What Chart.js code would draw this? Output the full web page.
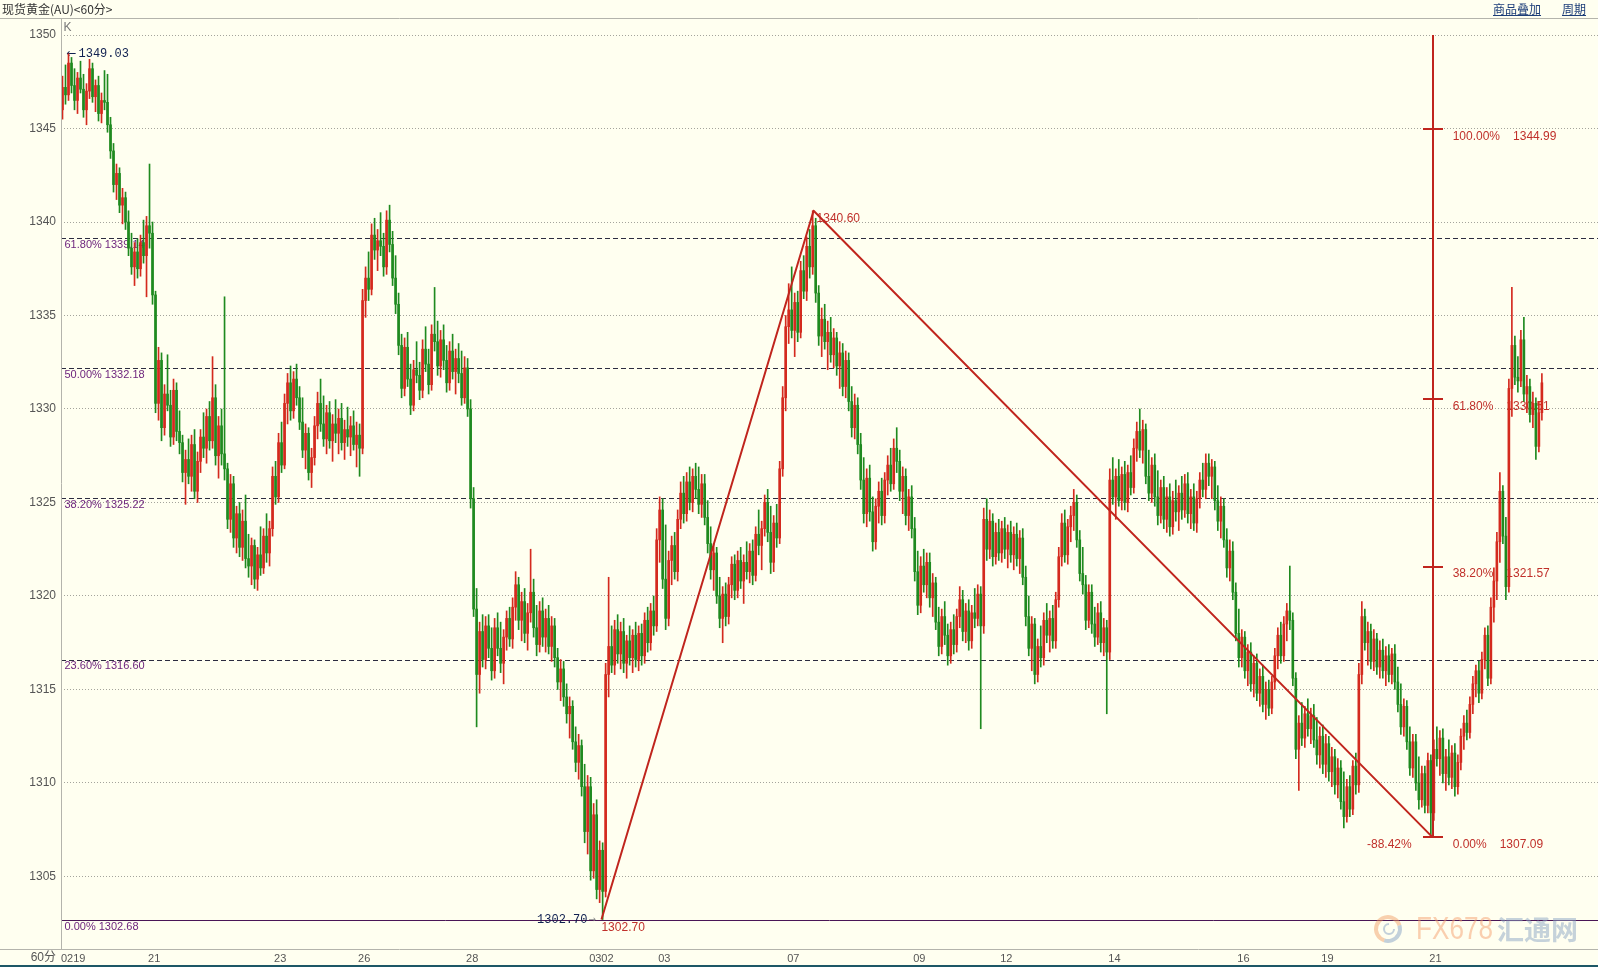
<!DOCTYPE html>
<html>
<head>
<meta charset="utf-8">
<script src="https://cdn.jsdelivr.net/npm/chart.js@4.4.1/dist/chart.umd.min.js"></script>
<style>
html, body { margin: 0; padding: 0; background: #fffff0; }
body { width: 1598px; height: 967px; position: relative; overflow: hidden; font-family: "Noto Sans CJK SC", sans-serif; }
canvas { position: absolute; left: 0; top: 0; }
#titulo { position: absolute; left: 2px; top: 1px; font-size: 12px; line-height: 16px; color: #333; }
.enlace { position: absolute; top: 1px; font-size: 12px; line-height: 16px; color: #1c3d78; text-decoration: underline; }
#pie { position: absolute; left: 0; top: 965px; width: 1598px; height: 2px; background: #1d5766; }
</style>
</head>
<body>
<canvas id="grafica" width="1598" height="967"></canvas>
<div id="titulo">现货黄金(AU)&lt;60分&gt;</div>
<div class="enlace" style="left:1493px">商品叠加</div>
<div class="enlace" style="left:1562px">周期</div>
<div id="pie"></div>
<script>
// velas de 60 minutos: [apertura, maximo, minimo, cierre]
const velas = [
  [1346.0,1347.8,1345.5,1347.2],[1347.2,1348.4,1346.3,1346.8],[1346.8,1349.0,1346.5,1348.5],[1348.5,1348.8,1346.9,1347.3],[1347.3,1348.2,1346.0,1346.5],
  [1346.5,1348.0,1345.8,1347.7],[1347.7,1348.6,1346.9,1347.1],[1347.1,1347.9,1345.6,1346.0],[1346.0,1347.4,1345.2,1347.0],[1347.0,1348.7,1346.6,1348.2],
  [1348.2,1348.5,1346.4,1346.7],[1346.7,1347.6,1345.9,1347.3],[1347.3,1347.8,1345.4,1345.8],[1345.8,1346.9,1345.3,1346.5],[1346.5,1348.1,1346.0,1346.4],
  [1346.4,1347.9,1344.8,1345.2],[1345.2,1345.6,1343.4,1343.8],[1343.8,1344.2,1341.6,1342.0],[1342.0,1343.1,1341.2,1342.6],[1342.6,1342.9,1340.5,1340.9],
  [1340.9,1341.8,1339.9,1341.3],[1341.3,1341.6,1339.6,1340.0],[1340.0,1340.6,1338.2,1338.6],[1338.6,1339.4,1337.2,1337.6],[1337.6,1338.9,1336.6,1338.4],
  [1338.4,1339.1,1337.0,1337.5],[1337.5,1339.3,1337.1,1338.9],[1338.9,1340.1,1337.8,1338.2],[1338.2,1340.3,1336.0,1339.8],[1339.8,1343.1,1338.6,1339.4],
  [1339.4,1340.0,1335.6,1336.1],[1336.1,1336.3,1329.8,1330.3],[1330.3,1333.3,1329.4,1332.6],[1332.6,1333.0,1328.3,1329.0],[1329.0,1331.3,1328.6,1330.8],
  [1330.8,1332.9,1329.9,1330.2],[1330.2,1331.0,1328.0,1328.5],[1328.5,1331.6,1328.1,1331.0],[1331.0,1331.4,1328.3,1328.8],[1328.8,1329.9,1327.6,1328.2],
  [1328.2,1328.6,1326.1,1326.6],[1326.6,1327.8,1324.9,1327.3],[1327.3,1328.4,1326.0,1326.4],[1326.4,1328.6,1325.6,1328.1],[1328.1,1328.9,1325.2,1325.6],
  [1325.6,1327.7,1325.0,1327.2],[1327.2,1328.9,1326.6,1328.5],[1328.5,1329.8,1327.4,1327.9],[1327.9,1330.0,1327.1,1329.6],[1329.6,1330.4,1327.8,1328.3],
  [1328.3,1332.8,1327.9,1330.6],[1330.6,1331.3,1327.0,1327.5],[1327.5,1329.6,1326.3,1329.1],[1329.1,1330.0,1327.0,1327.6],[1327.6,1336.0,1326.2,1326.8],
  [1326.8,1327.1,1323.6,1324.1],[1324.1,1326.5,1323.4,1326.0],[1326.0,1326.4,1322.6,1323.1],[1323.1,1324.8,1322.3,1324.4],[1324.4,1325.0,1322.1,1322.6],
  [1322.6,1324.6,1321.9,1324.0],[1324.0,1325.4,1321.5,1322.0],[1322.0,1323.3,1321.0,1321.6],[1321.6,1323.1,1320.6,1322.7],[1322.7,1323.0,1320.4,1320.9],
  [1320.9,1322.6,1320.3,1322.2],[1322.2,1323.7,1321.1,1321.5],[1321.5,1323.6,1321.2,1323.2],[1323.2,1324.4,1321.8,1322.3],[1322.3,1324.0,1321.6,1323.6],
  [1323.6,1326.9,1323.2,1326.4],[1326.4,1327.2,1324.9,1325.3],[1325.3,1328.7,1325.0,1328.2],[1328.2,1329.3,1326.6,1327.0],[1327.0,1330.8,1326.8,1330.3],
  [1330.3,1331.9,1329.2,1331.4],[1331.4,1332.3,1329.4,1329.9],[1329.9,1332.0,1329.5,1331.6],[1331.6,1332.4,1330.2,1330.6],[1330.6,1331.2,1328.9,1329.3],
  [1329.3,1330.6,1327.4,1327.8],[1327.8,1329.2,1326.8,1328.7],[1328.7,1329.0,1326.2,1326.6],[1326.6,1327.9,1325.8,1327.4],[1327.4,1329.6,1327.0,1329.1],
  [1329.1,1330.9,1328.4,1330.3],[1330.3,1331.6,1328.8,1329.2],[1329.2,1330.7,1328.0,1328.4],[1328.4,1330.2,1327.6,1329.8],[1329.8,1330.4,1327.9,1328.3],
  [1328.3,1329.7,1327.2,1329.2],[1329.2,1330.5,1328.2,1328.7],[1328.7,1330.0,1327.6,1329.5],[1329.5,1330.3,1327.8,1328.2],[1328.2,1329.4,1327.3,1328.9],
  [1328.9,1330.1,1328.0,1328.5],[1328.5,1329.6,1327.5,1329.1],[1329.1,1329.9,1327.8,1328.1],[1328.1,1329.3,1326.9,1328.6],[1328.6,1329.2,1326.4,1327.9],
  [1327.9,1336.4,1327.6,1335.8],[1335.8,1337.6,1334.9,1337.0],[1337.0,1338.4,1335.8,1336.4],[1336.4,1339.9,1336.1,1339.3],[1339.3,1340.2,1338.0,1338.5],
  [1338.5,1339.6,1337.4,1339.0],[1339.0,1340.5,1338.2,1338.7],[1338.7,1339.4,1337.1,1337.6],[1337.6,1340.6,1337.2,1340.1],[1340.1,1340.9,1338.4,1338.8],
  [1338.8,1339.5,1336.6,1337.0],[1337.0,1338.2,1335.1,1335.6],[1335.6,1336.2,1332.9,1333.4],[1333.4,1334.0,1330.6,1331.1],[1331.1,1333.8,1330.7,1333.3],
  [1333.3,1334.1,1331.2,1331.6],[1331.6,1332.4,1329.7,1330.2],[1330.2,1332.6,1329.9,1332.1],[1332.1,1333.6,1331.4,1331.8],[1331.8,1332.5,1330.5,1331.0],
  [1331.0,1333.7,1330.6,1333.2],[1333.2,1334.4,1332.0,1332.4],[1332.4,1333.2,1330.8,1331.3],[1331.3,1334.5,1331.0,1334.0],[1334.0,1336.5,1333.1,1333.6],
  [1333.6,1334.7,1331.8,1332.3],[1332.3,1334.2,1331.7,1333.7],[1333.7,1334.5,1332.1,1332.6],[1332.6,1333.4,1330.9,1331.4],[1331.4,1333.6,1331.0,1333.1],
  [1333.1,1334.0,1331.6,1332.0],[1332.0,1333.2,1330.8,1332.7],[1332.7,1333.5,1331.4,1331.9],[1331.9,1333.1,1330.2,1330.6],[1330.6,1332.8,1330.3,1332.2],
  [1332.2,1332.7,1329.6,1330.0],[1330.0,1330.5,1324.7,1325.2],[1325.2,1325.8,1318.9,1319.3],[1319.3,1320.4,1313.0,1315.8],[1315.8,1318.6,1314.8,1318.1],
  [1318.1,1319.0,1316.2,1316.6],[1316.6,1318.9,1316.1,1318.4],[1318.4,1319.0,1316.7,1317.2],[1317.2,1318.3,1315.5,1316.0],[1316.0,1318.8,1315.6,1318.3],
  [1318.3,1319.1,1316.8,1317.2],[1317.2,1318.6,1315.9,1316.4],[1316.4,1318.2,1315.3,1317.8],[1317.8,1319.2,1317.1,1318.8],[1318.8,1319.4,1317.3,1317.7],
  [1317.7,1319.9,1317.2,1319.4],[1319.4,1321.3,1318.7,1320.6],[1320.6,1321.0,1318.2,1318.7],[1318.7,1320.2,1317.6,1319.7],[1319.7,1320.4,1317.5,1318.0],
  [1318.0,1319.6,1317.1,1319.1],[1319.1,1322.5,1318.6,1320.2],[1320.2,1320.9,1317.8,1318.3],[1318.3,1319.5,1316.8,1317.4],[1317.4,1319.7,1317.0,1319.2],
  [1319.2,1319.9,1317.3,1317.8],[1317.8,1319.3,1317.0,1318.8],[1318.8,1319.5,1316.9,1317.3],[1317.3,1318.9,1316.5,1318.4],[1318.4,1318.8,1316.2,1316.7],
  [1316.7,1317.2,1315.0,1315.4],[1315.4,1316.6,1314.4,1316.1],[1316.1,1316.5,1314.1,1314.6],[1314.6,1315.3,1313.2,1313.7],[1313.7,1314.6,1312.4,1314.1],
  [1314.1,1314.4,1311.8,1312.2],[1312.2,1313.0,1310.6,1311.1],[1311.1,1312.6,1310.2,1312.0],[1312.0,1312.3,1309.3,1309.8],[1309.8,1311.0,1306.8,1307.4],
  [1307.4,1310.4,1306.2,1309.8],[1309.8,1310.3,1304.8,1305.3],[1305.3,1308.9,1304.9,1308.3],[1308.3,1309.1,1303.8,1304.3],[1304.3,1306.9,1303.6,1306.4],
  [1306.4,1306.8,1302.7,1304.2],[1304.2,1316.4,1303.9,1315.8],[1315.8,1321.0,1314.6,1317.3],[1317.3,1318.4,1315.9,1316.3],[1316.3,1318.7,1315.8,1318.2],
  [1318.2,1319.0,1316.4,1316.9],[1316.9,1318.6,1316.1,1318.1],[1318.1,1318.8,1315.9,1316.4],[1316.4,1317.9,1315.6,1317.6],[1317.6,1318.4,1316.3,1316.7],
  [1316.7,1318.2,1315.9,1317.9],[1317.9,1318.6,1316.2,1316.6],[1316.6,1318.4,1316.0,1318.0],[1318.0,1318.5,1316.3,1316.8],[1316.8,1319.1,1316.4,1318.7],
  [1318.7,1319.4,1317.0,1317.5],[1317.5,1319.6,1317.1,1319.2],[1319.2,1320.0,1317.9,1318.4],[1318.4,1323.6,1318.1,1323.0],[1323.0,1325.3,1321.8,1324.6],
  [1324.6,1325.2,1320.4,1320.9],[1320.9,1323.8,1318.2,1318.8],[1318.8,1322.4,1318.4,1321.9],[1321.9,1323.2,1320.6,1322.7],[1322.7,1323.4,1320.9,1321.3],
  [1321.3,1324.6,1320.8,1324.1],[1324.1,1326.1,1323.6,1325.5],[1325.5,1326.4,1323.9,1324.4],[1324.4,1326.6,1324.0,1326.1],[1326.1,1326.9,1324.6,1325.0],
  [1325.0,1326.8,1324.5,1326.4],[1326.4,1327.1,1325.2,1325.7],[1325.7,1326.9,1324.4,1324.9],[1324.9,1326.5,1324.2,1326.0],[1326.0,1326.5,1323.8,1324.2],
  [1324.2,1325.1,1322.3,1322.8],[1322.8,1323.7,1320.9,1321.4],[1321.4,1322.8,1320.3,1322.3],[1322.3,1322.6,1319.6,1320.0],[1320.0,1321.0,1318.3,1318.8],
  [1318.8,1320.5,1317.5,1320.1],[1320.1,1320.7,1318.4,1318.9],[1318.9,1321.0,1318.5,1320.6],[1320.6,1322.1,1319.9,1321.7],[1321.7,1322.2,1319.8,1320.3],
  [1320.3,1322.4,1319.9,1321.9],[1321.9,1322.6,1320.4,1320.8],[1320.8,1322.2,1319.6,1321.8],[1321.8,1322.9,1320.9,1321.3],[1321.3,1322.8,1320.7,1322.4],
  [1322.4,1323.0,1320.6,1321.1],[1321.1,1323.7,1320.8,1323.3],[1323.3,1324.6,1322.2,1322.7],[1322.7,1324.0,1321.4,1323.6],[1323.6,1325.4,1323.2,1325.0],
  [1325.0,1325.7,1322.9,1323.4],[1323.4,1324.8,1321.2,1321.8],[1321.8,1324.3,1321.3,1323.9],[1323.9,1324.9,1322.6,1323.1],[1323.1,1327.2,1322.8,1326.8],
  [1326.8,1331.2,1326.4,1330.6],[1330.6,1335.0,1329.9,1334.4],[1334.4,1336.7,1333.5,1335.3],[1335.3,1337.6,1333.8,1334.2],[1334.2,1336.2,1332.8,1335.7],
  [1335.7,1336.3,1333.6,1334.1],[1334.1,1337.9,1333.8,1337.4],[1337.4,1338.2,1335.9,1336.3],[1336.3,1339.2,1335.8,1338.7],[1338.7,1339.6,1337.0,1337.6],
  [1337.6,1340.6,1337.2,1339.8],[1339.8,1340.2,1335.7,1336.2],[1336.2,1336.6,1333.4,1333.9],[1333.9,1335.4,1332.8,1334.8],[1334.8,1335.6,1333.2,1333.6],
  [1333.6,1334.7,1332.1,1334.1],[1334.1,1334.9,1332.5,1332.9],[1332.9,1334.3,1332.2,1333.8],[1333.8,1334.1,1331.8,1332.3],[1332.3,1333.6,1331.1,1333.0],
  [1333.0,1333.5,1330.7,1331.2],[1331.2,1333.1,1330.6,1332.6],[1332.6,1333.0,1329.9,1330.4],[1330.4,1331.2,1328.5,1329.0],[1329.0,1330.8,1328.4,1330.2],
  [1330.2,1330.6,1327.6,1328.1],[1328.1,1328.7,1325.7,1326.2],[1326.2,1327.4,1323.9,1324.4],[1324.4,1326.8,1323.7,1326.3],[1326.3,1327.0,1324.0,1324.5],
  [1324.5,1325.3,1322.4,1322.9],[1322.9,1325.2,1322.5,1324.8],[1324.8,1326.1,1323.9,1325.6],[1325.6,1326.3,1323.8,1324.3],[1324.3,1326.6,1323.9,1326.2],
  [1326.2,1327.5,1325.4,1327.0],[1327.0,1327.9,1325.6,1326.0],[1326.0,1328.4,1325.7,1327.9],[1327.9,1329.0,1326.6,1327.2],[1327.2,1327.8,1325.1,1325.6],
  [1325.6,1326.9,1324.4,1326.4],[1326.4,1326.8,1323.8,1324.3],[1324.3,1325.7,1323.5,1325.3],[1325.3,1325.9,1323.1,1323.6],[1323.6,1324.2,1320.8,1321.3],
  [1321.3,1322.4,1319.0,1319.5],[1319.5,1322.1,1319.1,1321.6],[1321.6,1322.5,1320.2,1320.6],[1320.6,1322.3,1319.9,1321.8],[1321.8,1322.3,1319.4,1319.9],
  [1319.9,1321.2,1318.9,1320.7],[1320.7,1321.0,1318.2,1318.6],[1318.6,1319.4,1316.8,1317.3],[1317.3,1319.3,1316.9,1318.9],[1318.9,1319.7,1317.4,1317.9],
  [1317.9,1318.5,1316.3,1316.8],[1316.8,1318.6,1316.4,1318.2],[1318.2,1319.0,1316.9,1317.4],[1317.4,1319.3,1317.0,1318.9],[1318.9,1320.5,1318.3,1319.8],
  [1319.8,1320.3,1317.6,1318.1],[1318.1,1319.6,1317.5,1319.2],[1319.2,1319.8,1317.1,1317.6],[1317.6,1319.5,1317.2,1319.1],[1319.1,1320.4,1318.3,1318.8],
  [1318.8,1320.6,1318.4,1320.1],[1320.1,1320.5,1312.9,1318.4],[1318.4,1324.7,1318.0,1324.1],[1324.1,1325.2,1321.9,1322.5],[1322.5,1324.6,1322.0,1324.0],
  [1324.0,1324.4,1321.6,1322.1],[1322.1,1323.9,1321.7,1323.4],[1323.4,1324.1,1321.9,1322.3],[1322.3,1324.0,1321.8,1323.6],[1323.6,1324.2,1322.0,1322.5],
  [1322.5,1323.8,1321.5,1323.4],[1323.4,1324.0,1321.8,1322.2],[1322.2,1323.7,1321.4,1323.3],[1323.3,1323.9,1321.6,1322.0],[1322.0,1323.5,1321.2,1323.1],
  [1323.1,1323.6,1320.6,1321.0],[1321.0,1321.6,1318.4,1318.9],[1318.9,1320.0,1316.8,1317.2],[1317.2,1318.9,1316.0,1318.5],[1318.5,1318.8,1315.3,1315.8],
  [1315.8,1317.7,1315.4,1317.3],[1317.3,1318.4,1316.2,1316.7],[1316.7,1319.1,1316.3,1318.7],[1318.7,1319.6,1317.5,1317.9],[1317.9,1319.2,1317.0,1318.8],
  [1318.8,1319.5,1317.2,1317.6],[1317.6,1320.2,1317.2,1319.8],[1319.8,1322.6,1319.4,1322.1],[1322.1,1324.4,1321.6,1323.9],[1323.9,1324.6,1321.8,1322.2],
  [1322.2,1324.1,1321.7,1323.7],[1323.7,1324.8,1322.9,1324.3],[1324.3,1325.7,1323.5,1325.0],[1325.0,1325.4,1322.6,1323.0],[1323.0,1323.5,1320.8,1321.2],
  [1321.2,1322.6,1320.1,1320.6],[1320.6,1321.1,1318.2,1318.7],[1318.7,1320.6,1318.3,1320.2],[1320.2,1320.6,1318.0,1318.5],[1318.5,1319.4,1317.3,1317.8],
  [1317.8,1319.6,1317.4,1319.1],[1319.1,1319.7,1317.0,1317.5],[1317.5,1318.8,1316.8,1318.3],[1318.3,1318.7,1313.7,1317.0],[1317.0,1326.8,1316.6,1326.2],
  [1326.2,1327.4,1324.9,1325.3],[1325.3,1326.8,1324.1,1326.4],[1326.4,1327.3,1324.8,1325.1],[1325.1,1326.9,1324.6,1326.5],[1326.5,1327.2,1324.6,1325.0],
  [1325.0,1327.0,1324.5,1326.6],[1326.6,1327.5,1325.4,1325.8],[1325.8,1328.4,1325.5,1327.9],[1327.9,1329.3,1327.2,1328.8],[1328.8,1330.0,1327.4,1327.8],
  [1327.8,1329.4,1327.1,1328.9],[1328.9,1329.2,1326.0,1326.4],[1326.4,1327.8,1325.1,1325.5],[1325.5,1327.4,1325.0,1327.0],[1327.0,1327.6,1324.8,1325.3],
  [1325.3,1326.7,1323.8,1324.3],[1324.3,1326.2,1323.9,1325.8],[1325.8,1326.4,1323.6,1324.1],[1324.1,1325.8,1323.4,1325.3],[1325.3,1326.0,1323.2,1323.7],
  [1323.7,1325.6,1323.3,1325.1],[1325.1,1326.2,1324.0,1324.5],[1324.5,1325.9,1323.5,1325.5],[1325.5,1326.4,1324.1,1324.6],[1324.6,1326.5,1324.2,1326.0],
  [1326.0,1326.6,1323.9,1324.4],[1324.4,1325.7,1323.6,1325.3],[1325.3,1326.0,1323.5,1323.9],[1323.9,1325.6,1323.4,1325.2],[1325.2,1326.6,1324.7,1326.2],
  [1326.2,1327.1,1325.3,1325.7],[1325.7,1327.6,1325.2,1327.1],[1327.1,1327.6,1325.9,1326.4],[1326.4,1327.3,1325.2,1326.9],[1326.9,1327.2,1324.6,1325.1],
  [1325.1,1325.9,1323.5,1324.0],[1324.0,1325.3,1323.1,1324.8],[1324.8,1325.2,1322.6,1323.0],[1323.0,1323.6,1321.0,1321.5],[1321.5,1323.0,1320.8,1322.4],
  [1322.4,1322.9,1319.8,1320.2],[1320.2,1320.7,1317.6,1318.0],[1318.0,1319.3,1316.2,1316.7],[1316.7,1318.2,1316.2,1317.8],[1317.8,1318.1,1315.6,1316.0],
  [1316.0,1317.4,1315.2,1317.0],[1317.0,1317.5,1314.9,1315.3],[1315.3,1316.8,1314.6,1316.4],[1316.4,1316.9,1314.4,1314.8],[1314.8,1316.1,1314.1,1315.7],
  [1315.7,1316.3,1313.8,1314.2],[1314.2,1315.4,1313.4,1315.0],[1315.0,1315.5,1313.6,1314.0],[1314.0,1315.7,1313.7,1315.4],[1315.4,1317.2,1315.0,1316.8],
  [1316.8,1318.3,1316.1,1317.9],[1317.9,1318.6,1316.4,1316.8],[1316.8,1318.9,1316.5,1318.5],[1318.5,1319.6,1317.6,1319.2],[1319.2,1321.6,1318.2,1318.7],
  [1318.7,1319.1,1315.2,1315.6],[1315.6,1315.9,1311.3,1311.8],[1311.8,1313.6,1309.6,1313.2],[1313.2,1314.3,1312.0,1312.4],[1312.4,1314.1,1311.9,1313.7],
  [1313.7,1314.5,1312.5,1312.9],[1312.9,1314.0,1312.1,1313.6],[1313.6,1314.2,1311.9,1312.3],[1312.3,1313.5,1311.0,1311.5],[1311.5,1313.0,1310.8,1312.5],
  [1312.5,1313.1,1310.5,1311.0],[1311.0,1312.6,1310.3,1312.1],[1312.1,1312.5,1310.1,1310.6],[1310.6,1311.9,1309.8,1311.4],[1311.4,1311.8,1309.4,1309.9],
  [1309.9,1311.3,1309.2,1310.8],[1310.8,1311.2,1308.6,1309.0],[1309.0,1310.6,1307.6,1308.2],[1308.2,1310.2,1307.9,1309.8],[1309.8,1310.4,1308.2,1308.6],
  [1308.6,1311.2,1308.3,1310.9],[1310.9,1311.6,1309.4,1309.9],[1309.9,1316.4,1309.5,1315.8],[1315.8,1319.7,1315.3,1318.9],[1318.9,1319.3,1317.1,1317.5],
  [1317.5,1318.6,1316.3,1318.1],[1318.1,1318.5,1316.1,1316.5],[1316.5,1318.2,1316.0,1317.7],[1317.7,1318.0,1315.8,1316.2],[1316.2,1317.6,1315.6,1317.1],
  [1317.1,1317.7,1315.6,1316.0],[1316.0,1317.3,1315.2,1316.8],[1316.8,1317.4,1315.4,1315.8],[1315.8,1317.2,1315.3,1316.9],[1316.9,1317.4,1315.0,1315.4],
  [1315.4,1316.2,1313.8,1314.2],[1314.2,1315.3,1312.6,1313.0],[1313.0,1314.5,1312.5,1314.1],[1314.1,1314.4,1311.8,1312.2],[1312.2,1313.0,1310.4,1310.8],
  [1310.8,1312.6,1310.3,1312.2],[1312.2,1312.6,1309.6,1310.0],[1310.0,1311.4,1308.6,1309.1],[1309.1,1310.9,1308.7,1310.5],[1310.5,1310.9,1308.4,1308.8],
  [1308.8,1311.6,1308.4,1311.2],[1311.2,1311.5,1307.1,1308.4],[1308.4,1312.3,1308.0,1311.8],[1311.8,1313.0,1310.9,1311.3],[1311.3,1312.8,1310.4,1312.4],
  [1312.4,1312.9,1310.0,1310.5],[1310.5,1311.8,1309.6,1311.4],[1311.4,1312.3,1309.9,1310.3],[1310.3,1312.0,1309.7,1311.6],[1311.6,1312.1,1309.3,1309.8],
  [1309.8,1311.5,1309.4,1311.1],[1311.1,1312.9,1310.7,1312.5],[1312.5,1313.6,1311.8,1313.2],[1313.2,1313.9,1312.3,1312.7],[1312.7,1314.6,1312.4,1314.2],
  [1314.2,1315.7,1313.7,1315.3],[1315.3,1316.3,1314.6,1316.0],[1316.0,1316.5,1314.3,1314.8],[1314.8,1317.0,1314.5,1316.6],[1316.6,1318.3,1316.1,1317.9],
  [1317.9,1318.4,1315.2,1315.6],[1315.6,1319.9,1315.3,1319.4],[1319.4,1321.5,1318.6,1320.8],[1320.8,1323.4,1319.8,1322.9],[1322.9,1326.6,1321.8,1325.6],
  [1325.6,1325.9,1322.8,1323.2],[1323.2,1324.2,1319.8,1320.5],[1320.5,1331.6,1320.2,1331.1],[1331.1,1336.5,1329.6,1333.4],[1333.4,1333.9,1331.3,1331.7],
  [1331.7,1332.8,1330.9,1331.5],[1331.5,1334.2,1331.2,1333.7],[1333.7,1334.9,1330.4,1330.8],[1330.8,1331.8,1329.8,1331.2],[1331.2,1331.6,1329.3,1329.7],
  [1329.7,1330.9,1329.0,1330.3],[1330.3,1330.6,1327.3,1328.0],[1328.0,1330.4,1327.7,1329.8],[1329.8,1331.9,1329.4,1331.4]
];

// etiquetas del eje de tiempo (indice de la vela donde empieza cada una)
const ticksX = [0, 29, 71, 99, 135, 176, 199, 242, 284, 313, 349, 392, 420, 456];
const etiquetasX = ['0219', '21', '23', '26', '28', '0302', '03', '07', '09', '12', '14', '16', '19', '21'];
const ticksY = [1305, 1310, 1315, 1320, 1325, 1330, 1335, 1340, 1345, 1350];

// Fibonacci izquierdo
const fibNiveles = [1339.14, 1332.18, 1325.22, 1316.60];
const fibTextos = ['61.80% 1339.14', '50.00% 1332.18', '38.20% 1325.22', '23.60% 1316.60'];
const fibBase = 1302.68;
const fibBaseTexto = '0.00% 1302.68';

// regla de la derecha
const reglaX = 456.6;
const reglaTope = 1350.0;
const reglaNiveles = [1344.99, 1330.51, 1321.57, 1307.09];
const reglaPct = ['100.00%', '61.80%', '38.20%', '0.00%'];
const reglaValores = ['1344.99', '1330.51', '1321.57', '1307.09'];

// lineas de tendencia (indice, precio)
const tendenciaX = [179.6, 250.3, 456.6];
const tendenciaY = [1302.70, 1340.60, 1307.09];

const ROJO = '#d42a1e';
const VERDE = '#1f8a1f';
const LINEA = '#c0251d';
const colores = velas.map(v => v[3] >= v[0] ? ROJO : VERDE);

function texto(ctx, s, x, y, color, font, align, ancho) {
    ctx.save();
    ctx.fillStyle = color;
    ctx.font = font;
    ctx.textAlign = align || 'left';
    ctx.textBaseline = 'middle';
    if (ancho) ctx.fillText(s, x, y, ancho);
    else ctx.fillText(s, x, y);
    ctx.restore();
}

const capas = {
    id: 'capas',
    beforeDatasetsDraw(chart) {
        const ctx = chart.ctx;
        const xs = chart.scales.x, ys = chart.scales.y;
        const a = chart.chartArea;
        const fSans = '11px "Liberation Sans", Arial, sans-serif';

        // niveles Fibonacci
        ctx.save();
        ctx.strokeStyle = '#2c2c40';
        ctx.lineWidth = 1;
        ctx.setLineDash([5, 3]);
        fibNiveles.forEach(v => {
            const y = Math.round(ys.getPixelForValue(v)) + 0.5;
            ctx.beginPath(); ctx.moveTo(a.left, y); ctx.lineTo(a.right, y); ctx.stroke();
        });
        ctx.setLineDash([]);
        ctx.strokeStyle = '#4a1656';
        const yb = Math.round(ys.getPixelForValue(fibBase)) + 0.5;
        ctx.beginPath(); ctx.moveTo(a.left, yb); ctx.lineTo(a.right, yb); ctx.stroke();
        ctx.restore();

        fibNiveles.forEach((v, i) => {
            texto(ctx, fibTextos[i], a.left + 3.5, ys.getPixelForValue(v) + 6.5, '#6a1f7a', fSans);
        });
        texto(ctx, fibBaseTexto, a.left + 3.5, yb + 6, '#6a1f7a', fSans);

        texto(ctx, 'K', a.left + 2.5, 28, '#777', '12px "Liberation Sans", sans-serif');

        // etiquetas de maximo y minimo
        const fMono = '12px "Liberation Mono", "DejaVu Sans Mono", monospace';
        const xMax = xs.getPixelForValue(2);
        texto(ctx, '\u2190', xMax - 2, ys.getPixelForValue(1349.03) + 1, '#102050', '12px "DejaVu Sans", sans-serif');
        texto(ctx, '1349.03', xMax + 10, ys.getPixelForValue(1349.03) + 1, '#102050', fMono);
        const xMin = xs.getPixelForValue(tendenciaX[0]);
        const yMin = ys.getPixelForValue(tendenciaY[0]);
        texto(ctx, '1302.70', xMin - 14, yMin, '#102050', fMono, 'right');
        texto(ctx, '\u2192', xMin - 13, yMin, '#888', '9px "DejaVu Sans", sans-serif');
        const fRojo = '12px "Liberation Sans", Arial, sans-serif';
        texto(ctx, '1302.70', xMin, yMin + 8.5, '#c0302a', fRojo);
        const xPico = xs.getPixelForValue(tendenciaX[1]);
        texto(ctx, '1340.60', xPico + 3, ys.getPixelForValue(tendenciaY[1]) + 7.5, '#c0302a', fRojo);

        // textos de la regla
        const xr = xs.getPixelForValue(reglaX);
        ctx.save();
        ctx.font = fRojo;
        reglaNiveles.forEach((v, i) => {
            const y = ys.getPixelForValue(v) + 7.5;
            texto(ctx, reglaPct[i], xr + 20, y, '#c0302a', fRojo);
            const w = ctx.measureText(reglaPct[i]).width;
            texto(ctx, reglaValores[i], xr + 20 + w + 13, y, '#c0302a', fRojo);
        });
        ctx.restore();
        texto(ctx, '-88.42%', xr - 21, ys.getPixelForValue(reglaNiveles[3]) + 7.5, '#c0302a', fRojo, 'right');
    },
    afterDatasetsDraw(chart) {
        const ctx = chart.ctx;
        const xs = chart.scales.x, ys = chart.scales.y;
        ctx.save();
        ctx.strokeStyle = LINEA;
        ctx.lineWidth = 2;
        ctx.lineJoin = 'round';
        ctx.beginPath();
        tendenciaX.forEach((v, i) => {
            const x = xs.getPixelForValue(v), y = ys.getPixelForValue(tendenciaY[i]);
            if (i === 0) ctx.moveTo(x, y); else ctx.lineTo(x, y);
        });
        ctx.stroke();

        // regla vertical con marcas
        const xr = Math.round(xs.getPixelForValue(reglaX));
        ctx.beginPath();
        ctx.moveTo(xr, ys.getPixelForValue(reglaTope));
        ctx.lineTo(xr, ys.getPixelForValue(reglaNiveles[3]));
        ctx.stroke();
        reglaNiveles.forEach(v => {
            const y = Math.round(ys.getPixelForValue(v));
            ctx.beginPath(); ctx.moveTo(xr - 10, y); ctx.lineTo(xr + 10, y); ctx.stroke();
        });
        ctx.restore();
    },
    afterDraw(chart) {
        const ctx = chart.ctx;
        const a = chart.chartArea;
        ctx.save();
        ctx.strokeStyle = '#b4b4ac';
        ctx.lineWidth = 1;
        ctx.beginPath();
        ctx.moveTo(0, 18.5); ctx.lineTo(1598, 18.5);
        ctx.moveTo(0, a.bottom + 0.5); ctx.lineTo(1598, a.bottom + 0.5);
        ctx.moveTo(a.left + 0.5, 18); ctx.lineTo(a.left + 0.5, a.bottom);
        ctx.stroke();
        ctx.restore();
        texto(ctx, '60分', a.left - 5, a.bottom + 8.5, '#555', '12px "Liberation Sans", "Noto Sans CJK SC", sans-serif', 'right');

        // marca de agua
        ctx.save();
        ctx.lineWidth = 4;
        ctx.strokeStyle = 'rgba(240,150,90,0.45)';
        ctx.beginPath(); ctx.arc(1388, 929, 12, Math.PI * 0.6, Math.PI * 1.9); ctx.stroke();
        ctx.strokeStyle = 'rgba(120,150,190,0.45)';
        ctx.beginPath(); ctx.arc(1388, 929, 12, Math.PI * 1.9, Math.PI * 2.6); ctx.stroke();
        ctx.lineWidth = 2;
        ctx.beginPath(); ctx.arc(1389, 929, 5, 0, Math.PI * 1.5); ctx.stroke();
        ctx.restore();
        texto(ctx, 'FX678', 1416, 930, 'rgba(245,160,110,0.5)', '32px "Liberation Sans", sans-serif', 'left', 77);
        texto(ctx, '汇通网', 1497, 930, 'rgba(140,165,195,0.5)', 'bold 27px "Noto Sans CJK SC", sans-serif', 'left', 83);
    }
};

new Chart(document.getElementById('grafica'), {
    type: 'bar',
    data: {
        datasets: [
            {
                label: 'mecha',
                data: velas.map((v, i) => ({ x: i, y: [v[2], v[1]] })),
                backgroundColor: colores,
                borderWidth: 0,
                barThickness: 1,
                grouped: false,
                order: 2
            },
            {
                label: 'cuerpo',
                data: velas.map((v, i) => ({ x: i, y: [v[0], v[3]] })),
                backgroundColor: colores,
                borderWidth: 0,
                barThickness: 2,
                minBarLength: 1,
                grouped: false,
                order: 1
            }
        ]
    },
    options: {
        responsive: false,
        animation: false,
        devicePixelRatio: 1,
        events: [],
        layout: { padding: { top: 18, left: 0, right: 0, bottom: 0 } },
        plugins: { legend: { display: false }, tooltip: { enabled: false } },
        scales: {
            x: {
                type: 'linear',
                min: -0.5,
                max: 511.7,
                offset: false,
                grid: { display: false, drawTicks: false },
                border: { display: false },
                afterBuildTicks: s => { s.ticks = ticksX.map(v => ({ value: v - 0.5 })); },
                afterFit: s => { s.height = 18; },
                ticks: {
                    autoSkip: false,
                    maxRotation: 0,
                    minRotation: 0,
                    align: 'start',
                    padding: 3,
                    color: '#555',
                    font: { family: '"Liberation Sans", Arial, sans-serif', size: 11 },
                    callback: (v, i) => etiquetasX[i]
                }
            },
            y: {
                type: 'linear',
                min: 1301.12,
                max: 1350.91,
                afterBuildTicks: s => { s.ticks = ticksY.map(v => ({ value: v })); },
                afterFit: s => { s.width = 61; },
                grid: { color: '#a4a49c', lineWidth: 1, drawTicks: false },
                border: { display: false, dash: [1, 2] },
                ticks: {
                    color: '#555',
                    padding: 5,
                    font: { family: '"Liberation Sans", Arial, sans-serif', size: 12 },
                    callback: v => String(v)
                }
            }
        }
    },
    plugins: [capas]
});
</script>
</body>
</html>
